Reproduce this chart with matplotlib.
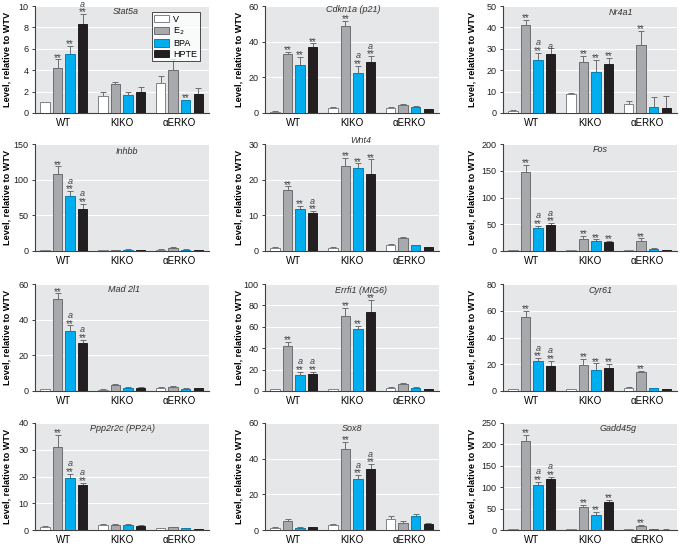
import numpy as np
import matplotlib
matplotlib.use("Agg")
import matplotlib.pyplot as plt
from matplotlib.patches import Patch

plt.rcParams['font.family'] = ['Liberation Sans Narrow', 'Liberation Sans', 'DejaVu Sans']

groups = ["WT", "KIKO", "\u03b1ERKO"]
treatments = ["V", "E$_2$", "BPA", "HPTE"]

# rows: WT, KIKO, aERKO ; cols: V, E2, BPA, HPTE
stat5a = [[1.0, 4.2, 5.5, 8.3], [1.55, 2.7, 1.65, 1.95], [2.8, 4.0, 1.2, 1.8]]
stat5a_err = [[0.05, 0.8, 0.8, 0.95], [0.4, 0.2, 0.3, 0.45], [0.7, 1.05, 0.05, 0.5]]
stat5a_sig = [["", "**", "**", "**a"], ["", "", "", ""], ["", "", "**", ""]]

cdkn1a = [[0.8, 33.2, 27.0, 37.0], [2.8, 49.0, 22.7, 28.7], [2.8, 4.5, 3.2, 2.0]]
cdkn1a_err = [[0.2, 1.1, 4.5, 2.0], [0.4, 2.7, 3.7, 3.2], [0.3, 0.4, 0.5, 0.3]]
cdkn1a_sig = [["", "**", "**", "**"], ["", "**", "**a", "**a"], ["", "", "", ""]]

nr4a1 = [[1.0, 41.1, 24.8, 27.8], [8.9, 23.9, 19.1, 23.0], [4.2, 31.8, 2.6, 2.2]]
nr4a1_err = [[0.3, 2.3, 3.4, 2.6], [0.3, 2.8, 5.7, 2.6], [1.5, 6.7, 4.9, 5.6]]
nr4a1_sig = [["", "**", "**a", "a"], ["", "**", "**", "**"], ["", "**", "", ""]]

inhbb = [[1.0, 108.0, 76.5, 59.5], [1.2, 1.5, 2.0, 1.5], [2.0, 4.5, 2.0, 1.3]]
inhbb_err = [[0.3, 10.5, 7.5, 7.0], [0.3, 0.3, 0.3, 0.3], [0.5, 1.5, 0.5, 0.3]]
inhbb_sig = [["", "**", "**a", "**a"], ["", "", "", ""], ["", "", "", ""]]

wnt4 = [[0.95, 17.0, 11.9, 10.7], [0.95, 23.8, 23.2, 21.6], [1.6, 3.75, 1.6, 1.0]]
wnt4_err = [[0.2, 1.1, 0.85, 0.45], [0.2, 2.4, 1.4, 4.1], [0.45, 0.25, 0.15, 0.2]]
wnt4_sig = [["", "**", "**", "**a"], ["", "**", "**", "**"], ["", "", "", ""]]

fos = [[1.0, 147.0, 42.5, 49.4], [1.5, 22.5, 18.1, 17.5], [1.5, 18.1, 4.4, 2.5]]
fos_err = [[0.3, 13.7, 4.4, 2.5], [0.3, 5.6, 3.8, 1.2], [0.3, 5.6, 1.0, 0.3]]
fos_sig = [["", "**", "**a", "**a"], ["", "**", "**", "**"], ["", "**", "", ""]]

mad2l1 = [[1.1, 51.6, 33.8, 27.1], [0.75, 3.55, 1.9, 1.9], [1.9, 2.05, 1.3, 1.5]]
mad2l1_err = [[0.3, 3.2, 3.0, 1.5], [0.1, 0.5, 0.3, 0.2], [0.2, 0.5, 0.2, 0.2]]
mad2l1_sig = [["", "**", "**a", "**a"], ["", "", "", ""], ["", "", "", ""]]

errfi1 = [[1.9, 42.2, 14.7, 15.6], [1.9, 70.0, 57.8, 74.0], [3.1, 6.6, 3.1, 1.9]]
errfi1_err = [[0.3, 3.4, 3.1, 2.2], [0.3, 7.5, 3.1, 11.0], [0.5, 1.0, 0.4, 0.2]]
errfi1_sig = [["", "**", "**a", "**a"], ["", "**", "**", "**"], ["", "", "", ""]]

cyr61 = [[1.5, 55.2, 22.7, 19.0], [1.5, 19.2, 15.7, 17.2], [2.2, 14.5, 2.2, 1.5]]
cyr61_err = [[0.3, 4.5, 1.8, 3.5], [0.2, 4.7, 5.0, 3.2], [0.5, 0.8, 0.3, 0.3]]
cyr61_sig = [["", "**", "**a", "**a"], ["", "**", "**", "**"], ["", "**", "", ""]]

ppp2r2c = [[1.25, 31.2, 19.6, 16.7], [2.0, 1.9, 2.0, 1.6], [0.6, 1.1, 0.75, 0.3]]
ppp2r2c_err = [[0.2, 4.5, 1.4, 0.9], [0.4, 0.2, 0.35, 0.4], [0.1, 0.2, 0.1, 0.05]]
ppp2r2c_sig = [["", "**", "**a", "**a"], ["", "", "", ""], ["", "", "", ""]]

sox8 = [[1.3, 5.2, 1.3, 1.7], [2.8, 45.5, 28.8, 34.0], [5.9, 3.9, 7.8, 3.2]]
sox8_err = [[0.3, 1.1, 0.2, 0.2], [0.6, 3.9, 2.0, 3.0], [2.2, 1.3, 1.1, 0.7]]
sox8_sig = [["", "", "", ""], ["", "**", "**a", "**a"], ["", "", "", ""]]

gadd45g = [[2.0, 208.7, 105.9, 120.0], [2.0, 54.5, 35.0, 65.4], [1.5, 9.3, 2.0, 1.0]]
gadd45g_err = [[0.5, 13.0, 7.0, 4.6], [0.5, 4.7, 7.8, 4.7], [0.3, 2.3, 0.3, 0.2]]
gadd45g_sig = [["", "**", "**a", "**a"], ["", "**", "**", "**"], ["", "**", "", ""]]

panels = [
    ("Stat5a", stat5a, stat5a_err, stat5a_sig, 10, 2),
    ("Cdkn1a (p21)", cdkn1a, cdkn1a_err, cdkn1a_sig, 60, 20),
    ("Nr4a1", nr4a1, nr4a1_err, nr4a1_sig, 50, 10),
    ("Inhbb", inhbb, inhbb_err, inhbb_sig, 150, 50),
    ("Wnt4", wnt4, wnt4_err, wnt4_sig, 30, 10),
    ("Fos", fos, fos_err, fos_sig, 200, 50),
    ("Mad 2l1", mad2l1, mad2l1_err, mad2l1_sig, 60, 20),
    ("Errfi1 (MIG6)", errfi1, errfi1_err, errfi1_sig, 100, 20),
    ("Cyr61", cyr61, cyr61_err, cyr61_sig, 80, 20),
    ("Ppp2r2c (PP2A)", ppp2r2c, ppp2r2c_err, ppp2r2c_sig, 40, 10),
    ("Sox8", sox8, sox8_err, sox8_sig, 60, 20),
    ("Gadd45g", gadd45g, gadd45g_err, gadd45g_sig, 250, 50),
]
title_x = [0.52, 0.51, 0.68, 0.53, 0.55, 0.56, 0.51, 0.55, 0.56, 0.5, 0.5, 0.66]
title_y = [0.95, 0.965, 0.94, 0.93, 1.035, 0.95, 0.95, 0.94, 0.94, 0.95, 0.95, 0.95]
ylab_x = [-0.135, -0.125, -0.155]

face = ["white", "#a7a9ac", "#00aeef", "#231f20"]
edge = ["#808285", "#6d6e71", "#0a7fae", "#231f20"]

W, H = 682, 546
fig = plt.figure(figsize=(W / 100, H / 100), dpi=100)

col_left = [35, 265, 503]
row_top = [6, 144, 284, 423]
aw, ah = 174, 107

group_pos = np.array([0, 4.6, 9.2])
offsets = np.array([-1.5, -0.5, 0.5, 1.5])

for i, (name, vals, errs, sigs, ymax, step) in enumerate(panels):
    r, c = divmod(i, 3)
    ax = fig.add_axes([col_left[c] / W, (H - row_top[r] - ah) / H, aw / W, ah / H])
    ax.set_facecolor("#e6e7e8")
    vals = np.array(vals)
    errs = np.array(errs)
    for k in range(4):
        x = group_pos + offsets[k]
        ax.bar(x, vals[:, k], width=0.75, color=face[k], edgecolor=edge[k],
               linewidth=0.7, zorder=3)
        ax.errorbar(x, vals[:, k], yerr=[np.zeros(3), errs[:, k]], fmt="none",
                    ecolor="#6d6e71", elinewidth=0.7, capsize=2, capthick=0.7,
                    zorder=2)
        for g in range(3):
            s = sigs[g][k]
            if not s:
                continue
            top = vals[g, k] + errs[g, k]
            off = 1.2
            if "**" in s:
                ax.annotate("**", (x[g], top), xytext=(0, off), textcoords="offset points",
                            ha="center", va="center", fontsize=7, color="#414042",
                            zorder=4, annotation_clip=False)
                off += 6.0
            if "a" in s:
                ax.annotate("a", (x[g], top), xytext=(0, off), textcoords="offset points",
                            ha="center", va="center", fontsize=6.5, style="italic",
                            family=["Liberation Sans", "DejaVu Sans"],
                            color="#414042", zorder=4, annotation_clip=False)
    ax.set_xlim(-2.3, 11.55)
    ax.set_ylim(0, ymax)
    ax.set_yticks(np.arange(0, ymax + step / 2, step))
    ax.yaxis.grid(True, color="white", linewidth=0.8, zorder=0)
    ax.set_axisbelow(True)
    ax.set_xticks(group_pos)
    ax.set_xticklabels(groups, fontsize=7)
    ax.tick_params(axis="x", length=0, pad=3.5)
    ax.tick_params(axis="y", labelsize=6.5, length=2.5, width=0.6, pad=2, colors="#231f20")
    for sp in ["top", "right"]:
        ax.spines[sp].set_visible(False)
    for sp in ["left", "bottom"]:
        ax.spines[sp].set_linewidth(0.8)
        ax.spines[sp].set_color("#414042")
    ax.set_ylabel("Level, relative to WTV", fontsize=6.6, fontweight="bold")
    ax.yaxis.set_label_coords(ylab_x[c], 0.5)
    ax.text(title_x[i], title_y[i], name, transform=ax.transAxes, ha="center",
            va="center", fontsize=6.5, style="italic", color="#333333")
    if i == 0:
        handles = [Patch(facecolor=face[k], edgecolor=edge[k], linewidth=0.7)
                   for k in range(4)]
        leg = ax.legend(handles, treatments, loc="upper right", fontsize=6.5,
                        frameon=True, fancybox=False, edgecolor="black",
                        handlelength=1.6, handleheight=0.9, borderpad=0.3,
                        labelspacing=0.2, handletextpad=0.5,
                        bbox_to_anchor=(0.975, 0.985))
        leg.get_frame().set_linewidth(0.6)

fig.savefig("out.png", dpi=100)
